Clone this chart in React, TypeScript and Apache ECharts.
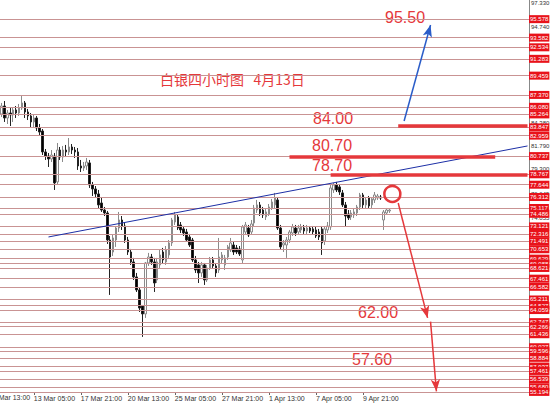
import React, { useEffect, useRef } from 'react';
import * as echarts from 'echarts';

// [open, close, low, high] per 4-hour bar
const candles: number[][] = [
  [85.30,86.17,84.98,86.50],[86.17,84.87,84.44,86.71],[84.87,85.41,84.22,85.74],[85.41,85.20,84.00,85.95],
  [85.20,85.74,84.44,86.06],[85.74,85.41,84.87,86.17],[85.41,85.95,85.09,86.39],[85.95,86.50,85.74,87.25],
  [86.50,85.52,84.87,86.71],[85.52,85.09,84.65,85.85],[85.09,84.44,83.79,85.41],[84.44,84.87,83.90,85.20],
  [84.87,83.79,83.46,85.09],[83.79,83.35,82.92,84.22],[83.46,81.19,80.86,83.68],[81.19,80.75,80.32,81.51],
  [80.75,80.43,79.56,81.08],[80.43,80.86,80.10,81.40],[80.75,77.83,77.07,81.08],[77.94,81.40,77.72,82.16],
  [81.40,80.64,80.32,81.73],[80.64,81.40,80.10,81.84],[81.40,81.19,80.64,81.95],[81.19,81.73,80.86,82.70],
  [81.73,81.40,80.97,82.05],[81.40,81.19,80.54,81.73],[81.19,79.67,79.24,81.62],[79.67,79.45,79.02,80.32],
  [79.45,79.67,79.13,80.10],[79.67,80.10,79.24,80.54],[80.00,77.61,77.29,80.32],[77.61,77.18,76.42,77.94],
  [77.18,76.64,76.20,77.50],[76.64,75.45,75.12,77.07],[75.66,74.90,74.69,76.31],[74.90,74.58,74.25,75.23],
  [74.58,71.65,71.22,74.80],[71.65,69.81,65.70,72.09],[70.35,71.87,69.92,72.20],[71.65,72.95,70.90,73.17],
  [72.95,73.82,72.52,74.69],[73.82,73.17,72.74,74.25],[73.17,71.65,71.33,73.60],[71.65,70.35,70.03,71.98],
  [70.35,69.27,68.95,70.68],[69.27,67.65,67.32,69.71],[67.65,66.24,66.02,68.08],[66.24,64.28,63.85,66.45],
  [64.50,63.64,61.15,64.61],[63.64,69.16,63.21,69.27],[69.16,69.81,68.84,70.25],[69.81,69.27,68.95,70.14],
  [69.27,66.99,66.02,69.71],[67.32,69.27,66.99,69.71],[68.95,70.03,68.62,70.57],[70.35,69.49,69.06,70.79],
  [69.27,70.57,68.95,71.00],[70.03,71.33,69.71,71.65],[71.33,73.82,71.00,74.04],[73.60,74.36,73.28,74.69],
  [74.15,72.95,72.74,74.47],[73.28,72.74,72.41,73.60],[72.85,72.41,72.09,73.17],[72.52,71.65,71.44,72.85],
  [71.98,71.11,70.90,72.31],[71.65,69.49,69.27,71.87],[69.49,68.40,68.08,69.92],[68.95,68.08,66.99,69.27],
  [68.08,68.95,67.65,69.27],[68.95,67.32,66.78,69.16],[67.32,68.62,67.10,68.95],[68.62,69.49,68.40,69.81],
  [69.49,68.84,68.62,69.81],[68.84,68.08,67.65,69.16],[68.40,69.81,68.08,71.87],[69.49,70.03,69.16,70.35],
  [68.95,69.71,68.40,70.03],[69.81,70.90,69.49,71.11],[70.57,71.33,70.35,71.87],[71.11,70.35,70.03,71.44],
  [70.79,70.35,70.14,71.11],[70.68,70.14,69.92,71.00],[69.49,73.06,69.16,73.28],[72.52,73.28,72.20,73.60],
  [72.95,72.20,71.98,73.28],[72.52,73.39,72.20,73.82],[73.50,75.12,73.17,75.45],[74.90,75.45,74.58,75.99],
  [75.45,74.58,74.25,75.77],[74.90,74.36,74.04,75.23],[74.15,74.69,73.82,75.01],[74.47,75.23,74.25,75.55],
  [75.12,75.77,74.90,76.10],[75.45,76.20,75.12,76.75],[75.99,72.95,72.74,76.31],[72.95,70.90,70.57,73.28],
  [71.11,71.33,70.35,71.65],[71.11,71.65,69.71,71.98],[71.65,72.52,71.33,72.74],[72.41,73.06,72.09,73.39],
  [72.95,72.41,72.09,73.28],[72.52,72.95,72.20,73.28],[72.74,73.06,72.41,73.39],[72.95,72.63,72.31,73.28],
  [72.63,72.95,72.31,73.28],[72.95,72.63,72.41,73.17],[72.85,72.52,72.20,73.17],[72.74,72.09,71.87,73.06],
  [72.52,71.98,71.65,72.85],[72.85,71.33,70.03,73.17],[71.55,72.85,71.11,73.17],[72.74,73.17,72.41,73.60],
  [73.06,77.29,72.74,77.61],[77.07,77.61,76.75,77.83],[77.61,77.07,76.85,77.94],[77.40,76.85,76.53,77.72],
  [76.75,75.45,75.23,77.07],[75.45,74.25,73.06,75.77],[74.47,74.04,73.82,74.90],[74.15,74.58,73.82,74.90],
  [74.36,74.69,74.04,75.01],[74.58,75.23,74.25,75.45],[75.23,76.53,74.90,76.75],[76.53,75.45,75.12,76.75],
  [75.45,75.99,75.12,76.31],[76.20,75.34,75.12,76.42],[75.45,76.10,75.12,76.31],[75.99,76.53,75.66,76.85],
  [76.20,76.42,75.99,76.64],[76.31,76.20,75.99,76.53],[73.82,74.69,72.74,74.90],[74.58,74.90,74.36,75.12],
  [74.80,74.90,74.58,75.01],
];

// horizontal support / resistance levels (red price tags)
const levels = [
  95.578, 93.582, 92.534, 91.283, 89.459, 87.370, 86.080, 85.264, 83.847, 82.959,
  80.737, 78.767, 77.644, 76.312, 75.117, 74.486, 73.121, 72.316, 71.491, 70.653,
  69.629, 69.088, 68.621, 67.461, 66.582, 65.211, 64.527, 64.059, 62.747, 62.266,
  61.436, 60.027, 59.596, 58.884, 57.937, 57.461, 56.539, 55.680, 55.194,
];

// price-axis tick labels that remain visible
const axisTicks = [97.330, 94.740, 84.380, 81.790, 79.300, 76.645, 74.055];

// time-axis labels: bar index and text
const xLabelIdx = [11, 27, 43, 59, 75, 91, 107, 123];
const xLabelText = ['13 Mar 05:00', '17 Mar 21:00', '20 Mar 13:00', '25 Mar 05:00', '27 Mar 21:00', '1 Apr 13:00', '7 Apr 05:00', '9 Apr 21:00'];
const slotCount = 180;

// drawn objects, [barIndex, price]
const trendLine = [[16, 71.98], [179, 81.84]];
const targetLine84 = [[135, 84.0], [179, 84.0]];
const targetLine807 = [[98, 80.7], [168, 80.7]];
const targetLine787 = [[112, 78.7], [179, 78.7]];
const upArrow = [[137, 84.55], [146, 94.95]];
const downArrow1 = [[135, 75.66], [145, 63.21]];
const downArrow2 = [[146, 62.8], [148, 55.25]];
const circlePoint = [133, 76.64];

const RED = '#e5383b';

export default function App() {
  const ref = useRef<HTMLDivElement>(null);
  useEffect(() => {
    if (!ref.current) return;
    const chart = echarts.init(ref.current, undefined, { renderer: 'svg' });
    const categories = Array.from({ length: slotCount }, (_, i) => String(i));
    const showLabel = (i: number) => xLabelIdx.indexOf(i) >= 0;

    const levelItems = levels.map((v) => ({
      yAxis: v,
      name: v.toFixed(3),
      lineStyle: { color: '#c99393', width: 1, type: 'solid' },
      label: {
        show: true,
        position: 'end',
        distance: 0,
        formatter: '{b}',
        color: '#ffffff',
        backgroundColor: '#e8121a',
        fontSize: 6,
        fontFamily: 'Liberation Sans',
        padding: [1, 1, 1, 1],
        lineHeight: 6,
      },
    }));

    const seg = (pts: number[][], color: string, width: number, arrow: boolean) => [
      { coord: pts[0], symbol: 'none', lineStyle: { color, width, type: 'solid' }, label: { show: false } },
      { coord: pts[1], symbol: arrow ? 'arrow' : 'none', symbolSize: arrow ? [7, 12] : 0 },
    ];

    const option: any = {
      animation: false,
      backgroundColor: '#ffffff',
      grid: { left: 0, right: 21, top: 0, bottom: 12, containLabel: false, outerBoundsMode: 'none' },
      xAxis: {
        type: 'category',
        data: categories,
        boundaryGap: true,
        axisLine: { show: true, lineStyle: { color: '#888888', width: 1 } },
        axisTick: { show: true, interval: (i: number) => showLabel(i), alignWithLabel: true, length: 3, lineStyle: { color: '#666' } },
        axisLabel: {
          show: true,
          interval: (i: number) => showLabel(i),
          formatter: (v: string) => {
            const k = xLabelIdx.indexOf(Number(v));
            return k >= 0 ? xLabelText[k] : '';
          },
          align: 'left',
          margin: 3,
          fontSize: 7,
          color: '#333333',
          fontFamily: 'Liberation Sans',
        },
        splitLine: { show: false },
      },
      yAxis: {
        type: 'value',
        position: 'right',
        min: 55.18,
        max: 97.655,
        scale: true,
        axisLine: { show: true, lineStyle: { color: '#888888', width: 1 } },
        axisTick: { show: false },
        splitLine: { show: false },
        axisLabel: {
          show: true,
          customValues: axisTicks,
          formatter: (v: number) => Number(v).toFixed(3),
          margin: 2,
          fontSize: 6,
          color: '#333333',
          fontFamily: 'Liberation Sans',
        },
      },
      series: [
        {
          type: 'candlestick',
          data: candles,
          barWidth: 2,
          itemStyle: {
            color: '#ffffff',
            color0: '#000000',
            borderColor: '#8a8a8a',
            borderColor0: '#222222',
            borderWidth: 1,
          },
          markLine: {
            silent: true,
            animation: false,
            symbol: ['none', 'none'],
            label: { show: false },
            emphasis: { disabled: true },
            data: [
              ...levelItems,
              seg(trendLine, '#1c2fa6', 1, false),
              seg(targetLine84, RED, 3.5, false),
              seg(targetLine807, RED, 3.5, false),
              seg(targetLine787, RED, 3.5, false),
              seg(upArrow, '#2a5cc8', 1.5, true),
              seg(downArrow1, RED, 1.5, true),
              seg(downArrow2, RED, 1.5, true),
            ],
          },
          markPoint: {
            silent: true,
            animation: false,
            data: [
              {
                coord: circlePoint,
                symbol: 'circle',
                symbolSize: 16,
                itemStyle: { color: 'rgba(255,255,255,0)', borderColor: RED, borderWidth: 2.5 },
                label: { show: false },
              },
            ],
          },
        },
      ],
      graphic: [
        { type: 'text', x: -11, y: 394, style: { text: '10 Mar 13:00', fontSize: 7, fill: '#333333', fontFamily: 'Liberation Sans' } },
        { type: 'text', x: 160, y: 72, style: { text: '白银四小时图   4月13日', fontSize: 14, fill: RED, fontFamily: 'Noto Sans CJK SC' } },
        { type: 'text', x: 385, y: 9, style: { text: '95.50', fontSize: 16, fill: RED, fontFamily: 'Liberation Sans' } },
        { type: 'text', x: 313, y: 110, style: { text: '84.00', fontSize: 16, fill: RED, fontFamily: 'Liberation Sans' } },
        { type: 'text', x: 312, y: 137, style: { text: '80.70', fontSize: 16, fill: RED, fontFamily: 'Liberation Sans' } },
        { type: 'text', x: 312, y: 157, style: { text: '78.70', fontSize: 16, fill: RED, fontFamily: 'Liberation Sans' } },
        { type: 'text', x: 358, y: 304, style: { text: '62.00', fontSize: 16, fill: RED, fontFamily: 'Liberation Sans' } },
        { type: 'text', x: 352, y: 351, style: { text: '57.60', fontSize: 16, fill: RED, fontFamily: 'Liberation Sans' } },
      ],
    };
    chart.setOption(option);
    return () => chart.dispose();
  }, []);
  return (
    <div
      ref={ref}
      style={{ position: 'fixed', left: 0, top: 0, width: 550, height: 404, background: '#fff' }}
    />
  );
}
